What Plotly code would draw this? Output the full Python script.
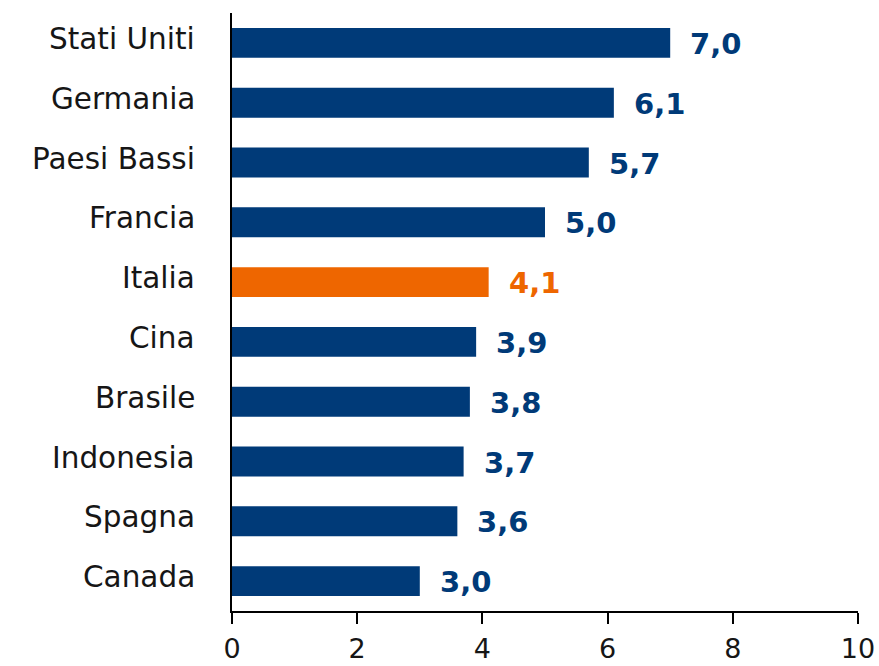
import plotly.graph_objects as go

categories = ["Stati Uniti", "Germania", "Paesi Bassi", "Francia", "Italia",
              "Cina", "Brasile", "Indonesia", "Spagna", "Canada"]
values = [7.0, 6.1, 5.7, 5.0, 4.1, 3.9, 3.8, 3.7, 3.6, 3.0]
highlight = "Italia"
x_ticks = [0, 2, 4, 6, 8, 10]

NAVY = "#003A78"
ORANGE = "#EE6600"
TEXT = "#161616"
colors = [ORANGE if c == highlight else NAVY for c in categories]
FONT = "DejaVu Sans, sans-serif"

fig = go.Figure(go.Bar(
    x=values, y=categories, orientation="h",
    marker=dict(color=colors, line=dict(width=0)),
    width=0.5, hoverinfo="skip",
))

# value labels
for c, v, col in zip(categories, values, colors):
    fig.add_annotation(x=v, y=c, xref="x", yref="y", text=f"{v:.1f}".replace(".", ","),
                       showarrow=False, xanchor="left", xshift=18, yshift=-1,
                       font=dict(family=FONT, size=29, color=col, weight="bold"))

# category labels
for c in categories:
    fig.add_annotation(x=0, y=c, xref="paper", yref="y", text=c,
                       showarrow=False, xanchor="right", xshift=-35, yshift=4,
                       font=dict(family=FONT, size=29.5, color=TEXT))

fig.update_layout(
    width=879, height=666,
    margin=dict(l=232, r=21, t=13, b=55, autoexpand=False),
    plot_bgcolor="white", paper_bgcolor="white",
    showlegend=False,
    font=dict(family=FONT, color=TEXT),
)
fig.update_xaxes(range=[0, 10], tickvals=x_ticks, ticktext=[str(t) for t in x_ticks],
                 showgrid=False, zeroline=False, showline=True, linecolor="black", linewidth=2,
                 ticks="outside", ticklen=11, tickwidth=2, tickcolor="black",
                 automargin=False, ticklabelstandoff=2,
                 tickfont=dict(size=27, color=TEXT))
fig.update_yaxes(categoryorder="array", categoryarray=categories[::-1],
                 showgrid=False, zeroline=False, showline=True, linecolor="black", linewidth=2,
                 ticks="", showticklabels=False, automargin=False)

fig.write_html("out.html",
               config={"displayModeBar": False, "staticPlot": True},
               post_script="document.body.style.margin='0';document.body.style.overflow='hidden';")
